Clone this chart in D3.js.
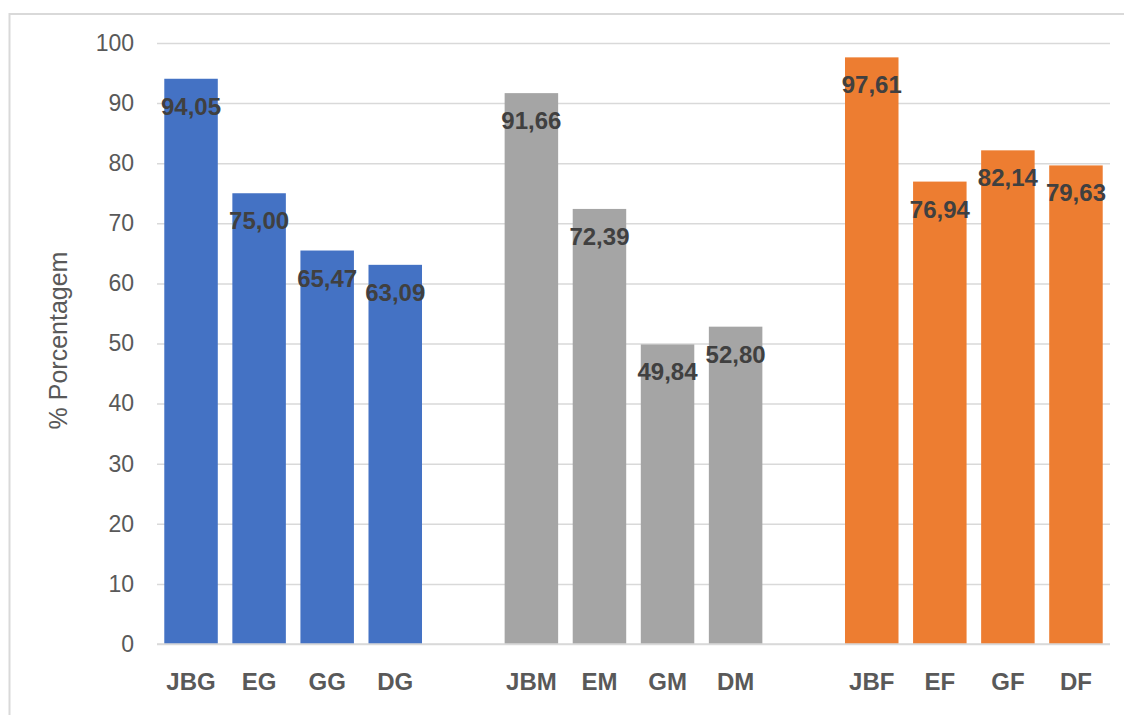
<!DOCTYPE html>
<html>
<head>
<meta charset="utf-8">
<script src="https://cdn.jsdelivr.net/npm/d3@7"></script>
<style>
  html, body { margin: 0; padding: 0; background: #fff; }
  svg { display: block; font-family: "Liberation Sans", Arial, sans-serif; }
</style>
</head>
<body>
<svg id="chart" width="1124" height="715"></svg>
<script>
// Category slots in plotting order; empty strings are spacer slots between groups
const categories = ["JBG", "EG", "GG", "DG", "", "JBM", "EM", "GM", "DM", "", "JBF", "EF", "GF", "DF"];
// Percentage per slot (null for spacers)
const values = [94.05, 75.00, 65.47, 63.09, null, 91.66, 72.39, 49.84, 52.80, null, 97.61, 76.94, 82.14, 79.63];
// Group index per slot (G, M, F)
const groups = [0, 0, 0, 0, null, 1, 1, 1, 1, null, 2, 2, 2, 2];
const groupColors = ["#4472C4", "#A5A5A5", "#ED7D31"];
const yTicks = [0, 10, 20, 30, 40, 50, 60, 70, 80, 90, 100];
const yTitle = "% Porcentagem";

const svg = d3.select("#chart");
const W = 1124, H = 715;
const plot = { left: 157, right: 1110, top: 43, bottom: 644 };

// Outer chart frame (extends past the visible canvas on the right and bottom)
svg.append("rect")
  .attr("x", 9.5).attr("y", 14)
  .attr("width", W + 20).attr("height", H + 20)
  .attr("fill", "#fff")
  .attr("stroke", "#d9d9d9").attr("stroke-width", 2);

const x = d3.scaleBand()
  .domain(d3.range(categories.length))
  .range([plot.left, plot.right])
  .paddingInner(0.214)
  .paddingOuter(0.107);

const y = d3.scaleLinear()
  .domain([0, 100])
  .range([plot.bottom, plot.top]);

// Horizontal gridlines and y tick labels
const yAxis = d3.axisLeft(y)
  .tickValues(yTicks)
  .tickSize(-(plot.right - plot.left))
  .tickPadding(23)
  .tickFormat(d3.format("d"));

const gy = svg.append("g")
  .attr("transform", `translate(${plot.left},0)`)
  .call(yAxis);
gy.select(".domain").remove();
gy.selectAll(".tick line").attr("stroke", "#d9d9d9").attr("stroke-width", 1.5);
gy.selectAll(".tick text")
  .attr("fill", "#595959")
  .attr("font-size", 23);

// Bars
const data = values.map((v, i) => ({ i, v, g: groups[i], label: categories[i] }))
  .filter(d => d.v !== null);

svg.append("g").selectAll("rect")
  .data(data)
  .join("rect")
  .attr("x", d => x(d.i))
  .attr("width", x.bandwidth())
  .attr("y", d => y(d.v))
  .attr("height", d => y(0) - y(d.v))
  .attr("fill", d => groupColors[d.g]);

// Value labels just inside the top of each bar
const fmt = v => v.toFixed(2).replace(".", ",");
svg.append("g").selectAll("text")
  .data(data)
  .join("text")
  .attr("x", d => x(d.i) + x.bandwidth() / 2)
  .attr("y", d => y(d.v) + 36)
  .attr("text-anchor", "middle")
  .attr("font-size", 24)
  .attr("font-weight", "bold")
  .attr("fill", "#404040")
  .text(d => fmt(d.v));

// Category labels along the bottom
const xAxis = d3.axisBottom(x)
  .tickSize(0)
  .tickPadding(29)
  .tickFormat(i => categories[i]);
const gx = svg.append("g")
  .attr("transform", `translate(0,${plot.bottom})`)
  .call(xAxis);
gx.select(".domain")
  .attr("stroke", "#d9d9d9").attr("stroke-width", 1.5)
  .attr("d", `M${plot.left},0H${plot.right}`);
gx.selectAll(".tick text")
  .attr("fill", "#595959")
  .attr("font-size", 24)
  .attr("font-weight", "bold");

// Y axis title
svg.append("text")
  .attr("transform", `translate(67,${(plot.top + plot.bottom) / 2 - 3}) rotate(-90)`)
  .attr("text-anchor", "middle")
  .attr("font-size", 25)
  .attr("fill", "#595959")
  .text(yTitle);
</script>
</body>
</html>
